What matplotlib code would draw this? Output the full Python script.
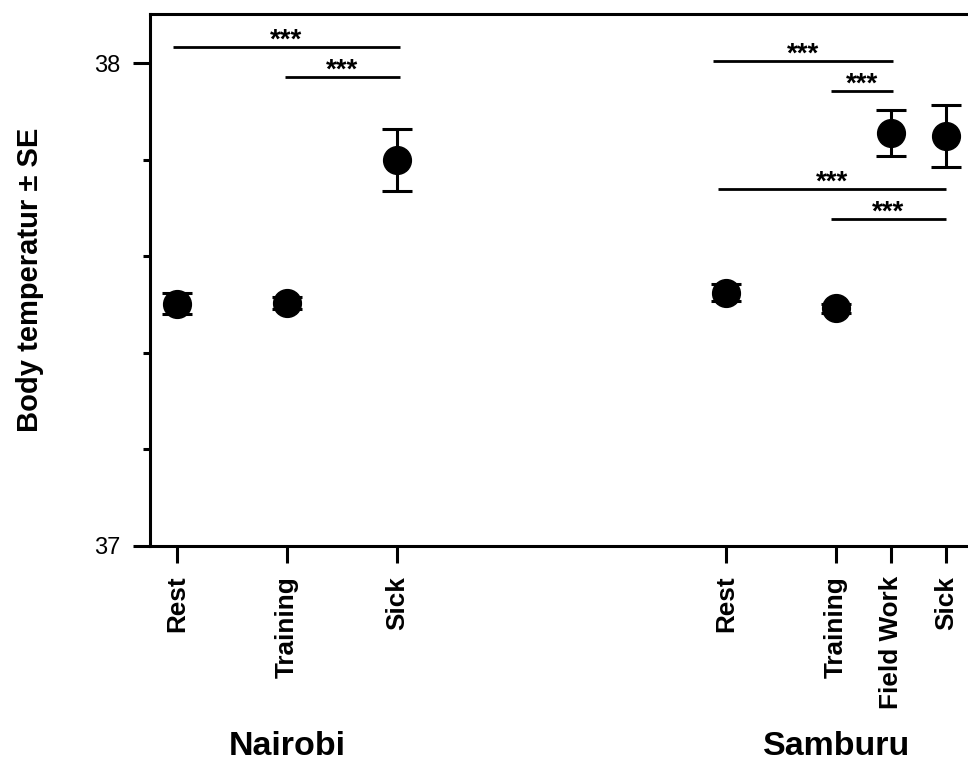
import matplotlib
matplotlib.use("Agg")
import matplotlib.pyplot as plt
import matplotlib.transforms as mtransforms

plt.rcParams['font.family'] = ['Liberation Sans', 'DejaVu Sans']

# ---- data ----
nairobi_labels = ["Rest", "Training", "Sick"]
nairobi_x = [0, 1, 2]
nairobi_mean = [37.502, 37.503, 37.800]
nairobi_se = [0.022, 0.013, 0.064]

samburu_labels = ["Rest", "Training", "Field Work", "Sick"]
samburu_x = [5, 6, 6.5, 7]
samburu_mean = [37.525, 37.492, 37.856, 37.849]
samburu_se = [0.018, 0.010, 0.048, 0.064]

group_names = ["Nairobi", "Samburu"]
group_centers = [1, 6]

# significance brackets: (x_start, x_end, y, label)
bracket_x0 = [-0.04, 0.98, 4.88, 5.95, 4.92, 5.95]
bracket_x1 = [2.03, 2.03, 6.52, 6.52, 7.00, 7.00]
bracket_y = [38.034, 37.972, 38.005, 37.943, 37.740, 37.678]
bracket_txt = ["***"] * 6

y_ticks = [37, 38]
y_minor = [37.2, 37.4, 37.6, 37.8]

# ---- figure ----
fig = plt.figure(figsize=(9.68, 7.63), dpi=100)
ax = fig.add_axes([150 / 968, 217 / 763, 818 / 968, 532 / 763])

lw = 2.2
for xs, ms, se in [(nairobi_x, nairobi_mean, nairobi_se),
                   (samburu_x, samburu_mean, samburu_se)]:
    ax.errorbar(xs, ms, yerr=se, fmt='o', color='black', markersize=20,
                elinewidth=lw, capsize=10.5, capthick=lw, zorder=3)

for x0, x1, y, t in zip(bracket_x0, bracket_x1, bracket_y, bracket_txt):
    ax.plot([x0, x1], [y, y], color='black', lw=2.0, solid_capstyle='butt')
    ax.annotate(t, xy=((x0 + x1) / 2, y), xytext=(0, -0.5),
                textcoords='offset points', ha='center', va='baseline',
                fontsize=20, fontweight='bold')

ax.set_xlim(-0.246, 7.20)
ax.set_ylim(37.0, 38.102)

ax.set_xticks(nairobi_x + samburu_x)
ax.set_xticklabels(nairobi_labels + samburu_labels, rotation=90,
                   fontsize=18.8, fontweight='bold')
ax.set_yticks(y_ticks)
ax.set_yticklabels([str(v) for v in y_ticks], fontsize=17)
ax.set_yticks(y_minor, minor=True)

ax.tick_params(axis='both', which='major', length=12.5, width=lw,
               direction='out', pad=9, color='black')
ax.tick_params(axis='y', which='minor', length=5, width=lw, direction='out')

for s in ['left', 'bottom', 'top']:
    ax.spines[s].set_linewidth(lw)
ax.spines['right'].set_visible(False)

trans = mtransforms.blended_transform_factory(ax.transData, fig.transFigure)
for name, cx in zip(group_names, group_centers):
    ax.text(cx, 0.0105, name, transform=trans, ha='center', va='baseline',
            fontsize=24.5, fontweight='bold', clip_on=False)

fig.text(0.031, 0.633, "Body temperatur \u00b1 SE", rotation=90,
         ha='center', va='center', fontsize=21, fontweight='bold')

fig.savefig("out.png", dpi=100)
